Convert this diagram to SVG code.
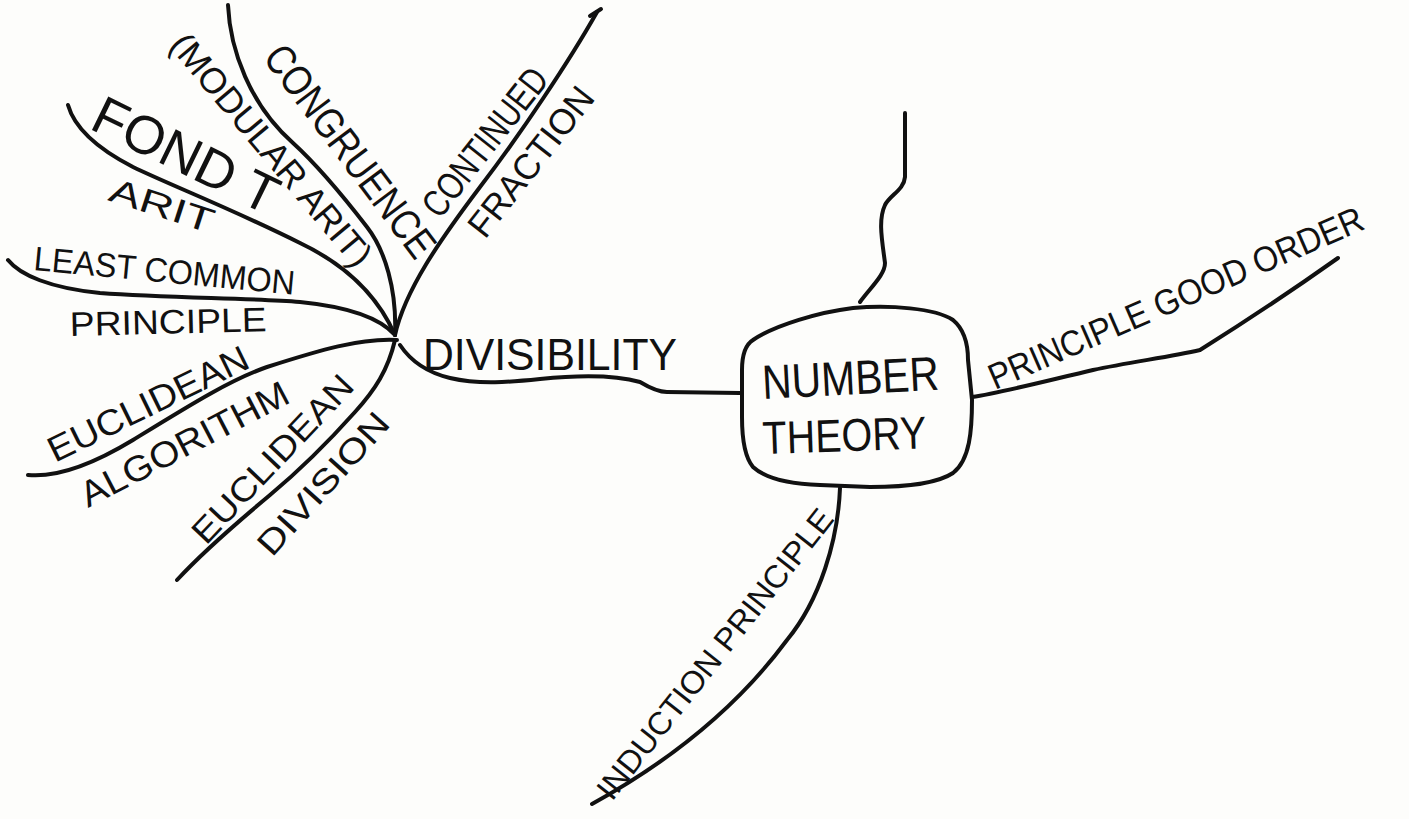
<svg xmlns="http://www.w3.org/2000/svg" width="1409" height="819" viewBox="0 0 1409 819">
<style>
.ln{fill:none;stroke:#111;stroke-width:4;stroke-linecap:round;stroke-linejoin:round}
.t{font-family:"Liberation Sans","DejaVu Sans",sans-serif;fill:#111;}
</style>
<rect width="1409" height="819" fill="#fdfdfb"/>
<g id="connectors">
<path class="ln" d="M228,5 C230,50 250,105 293,143 C315,163 340,192 367,227 C385,250 397,290 395,335"/>
<path class="ln" d="M597,12 C570,60 520,135 480,187 C440,240 405,290 395,335"/>
<path class="ln" d="M590,16 L601,9"/>
<path class="ln" d="M68,105 C75,130 100,150 133,167 C170,185 230,208 300,243 C340,262 375,290 395,335"/>
<path class="ln" d="M8,260 C20,275 50,288 100,293 C170,298 250,298 300,302 C350,307 380,318 395,335"/>
<path class="ln" d="M397,340 C360,338 320,350 267,367 C230,380 190,405 133,440 C100,460 60,478 28,475"/>
<path class="ln" d="M395,340 C388,370 375,390 355,412 C330,440 300,470 270,495 C240,520 200,555 177,580"/>
<path class="ln" d="M400,345 C410,360 425,372 450,378 C480,385 510,382 540,379 C580,375 615,375 640,382 C650,388 658,392 667,392 L740,393"/>
<path class="ln" d="M905,113 L905,177 C904,190 890,195 885,205 C878,220 882,240 885,263 C885,275 870,288 860,302"/>
<path class="ln" d="M972,397 C1000,393 1050,380 1093,370 C1130,362 1170,357 1200,350 C1240,325 1290,292 1338,258"/>
<path class="ln" d="M840,488 C838,540 820,600 787,640 C750,690 690,750 592,804"/>
</g>
<g id="number-theory">
<path class="ln" d="M753,340 C775,325 820,312 853,308 C890,305 935,308 953,320 C965,330 968,345 968,360 L972,400 C972,430 970,460 953,473 C935,485 900,487 870,487 L820,485 C790,484 765,478 753,467 C743,455 742,430 742,417 L742,370 C742,355 745,345 753,340 Z"/>
<text class="t" font-size="48" transform="translate(763,399) rotate(-3)" textLength="177" lengthAdjust="spacingAndGlyphs">NUMBER</text>
<text class="t" font-size="46" transform="translate(763,454) rotate(-2)" textLength="164" lengthAdjust="spacingAndGlyphs">THEORY</text>
</g>
<g id="divisibility"><text class="t" font-size="44" transform="translate(423,370)" textLength="254" lengthAdjust="spacingAndGlyphs">DIVISIBILITY</text></g>
<g id="congruence"><text class="t" font-size="42" transform="translate(262,58) rotate(53)" textLength="255" lengthAdjust="spacingAndGlyphs">CONGRUENCE</text></g>
<g id="modular"><text class="t" font-size="36" transform="translate(168,46) rotate(50)" textLength="292" lengthAdjust="spacingAndGlyphs">(MODULAR ARIT)</text></g>
<g id="fond-t"><text class="t" font-size="54" transform="translate(88,128) rotate(26)" textLength="200" lengthAdjust="spacingAndGlyphs">FOND T</text>
<text class="t" font-size="34" transform="translate(107,200) rotate(18)" textLength="108" lengthAdjust="spacingAndGlyphs">ARIT</text></g>
<g id="least-common"><text class="t" font-size="34" transform="translate(33,270) rotate(5.4)" textLength="262" lengthAdjust="spacingAndGlyphs">LEAST COMMON</text>
<text class="t" font-size="34" transform="translate(70,336) rotate(-1.4)" textLength="197" lengthAdjust="spacingAndGlyphs">PRINCIPLE</text></g>
<g id="euclidean-algorithm"><text class="t" font-size="36" transform="translate(55,463) rotate(-26)" textLength="219" lengthAdjust="spacingAndGlyphs">EUCLIDEAN</text>
<text class="t" font-size="36" transform="translate(88,508) rotate(-27.5)" textLength="230" lengthAdjust="spacingAndGlyphs">ALGORITHM</text></g>
<g id="euclidean-division"><text class="t" font-size="34" transform="translate(206,546) rotate(-46.5)" textLength="218" lengthAdjust="spacingAndGlyphs">EUCLIDEAN</text>
<text class="t" font-size="34" transform="translate(272,558) rotate(-48)" textLength="179" lengthAdjust="spacingAndGlyphs">DIVISION</text></g>
<g id="continued-fraction"><text class="t" font-size="38" transform="translate(440,220) rotate(-51.7)" textLength="178" lengthAdjust="spacingAndGlyphs">CONTINUED</text>
<text class="t" font-size="36" transform="translate(485,240) rotate(-51.8)" textLength="180" lengthAdjust="spacingAndGlyphs">FRACTION</text></g>
<g id="good-order"><text class="t" font-size="36" transform="translate(995,390) rotate(-23.5)" textLength="405" lengthAdjust="spacingAndGlyphs">PRINCIPLE GOOD ORDER</text></g>
<g id="induction"><text class="t" font-size="32" transform="translate(612,802) rotate(-51.7)" textLength="360" lengthAdjust="spacingAndGlyphs">INDUCTION PRINCIPLE</text></g>
</svg>
